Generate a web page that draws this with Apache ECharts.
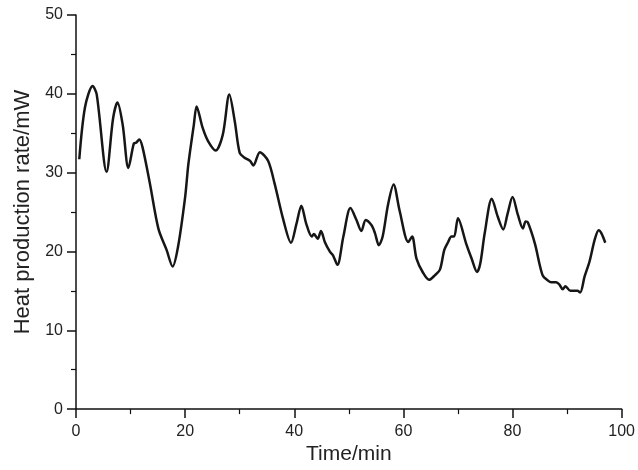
<!DOCTYPE html>
<html>
<head>
<meta charset="utf-8">
<script src="https://cdn.jsdelivr.net/npm/echarts@6/dist/echarts.min.js"></script>
<style>
html,body{margin:0;padding:0;background:#fff;}
#chart{width:638px;height:470px;}
</style>
</head>
<body>
<div id="chart"></div>
<script>
const times = [0.6,1.65,3.05,3.8,5.6,6.8,7.6,8.55,9.6,10.6,11.0,11.6,12.2,13.55,15.1,16.6,17.7,18.7,20.0,20.6,21.6,22.1,23.2,24.2,25.6,26.9,28.1,29.1,30.0,30.9,31.9,32.5,33.7,35.2,36.4,38.0,39.4,40.4,41.3,42.2,43.2,43.6,44.3,44.9,45.6,46.5,47.1,47.9,49.0,50.3,51.4,52.3,53.1,54.2,54.8,55.5,56.2,57.2,58.2,59.3,60.9,61.6,62.4,63.6,64.7,65.8,66.7,67.5,68.2,68.8,69.3,70.0,71.5,72.5,73.5,74.1,74.9,76.2,77.3,78.3,79.1,80.0,81.0,81.9,82.4,82.8,84.1,85.5,86.5,87.1,88.0,88.6,89.2,89.7,90.6,91.4,91.9,92.4,93.2,94.1,95.1,95.8,96.3,97.0];
const rates = [31.7,38.3,41.0,39.9,30.1,36.9,38.9,36.1,30.6,33.7,33.8,34.2,33.2,28.6,22.9,20.2,18.1,20.6,26.9,31.1,36.1,38.4,35.7,34.0,32.8,34.8,39.9,36.5,32.5,31.9,31.5,30.9,32.6,31.5,28.6,24.0,21.1,23.5,25.8,23.5,21.9,22.2,21.6,22.6,21.2,20.0,19.5,18.3,21.9,25.5,24.0,22.6,24.0,23.3,22.3,20.8,21.9,26.0,28.5,25.2,21.2,21.9,19.1,17.3,16.4,17.0,17.7,20.2,21.2,21.9,21.9,24.2,21.0,19.1,17.4,18.5,22.3,26.7,24.4,22.8,24.8,26.9,24.6,22.9,23.8,23.7,21.0,17.0,16.3,16.1,16.1,15.8,15.2,15.6,15.0,15.0,15.0,14.8,16.8,18.7,21.6,22.7,22.3,21.1];
const xTicks = [0,20,40,60,80,100];
const yTicks = [0,10,20,30,40,50];

const data = times.map((t, i) => [t, rates[i]]);
const font = 'Liberation Sans, Arial, Helvetica, sans-serif';
const chart = echarts.init(document.getElementById('chart'), null, {renderer: 'canvas'});
chart.setOption({
  animation: false,
  backgroundColor: '#ffffff',
  grid: {left: 76, right: 16, top: 15, bottom: 56},
  xAxis: {
    type: 'value',
    min: xTicks[0], max: xTicks[xTicks.length - 1], interval: 20,
    name: 'Time/min', nameLocation: 'middle', nameGap: 31,
    nameTextStyle: {fontFamily: font, fontSize: 21, color: '#222'},
    axisLine: {show: true, onZero: false, lineStyle: {color: '#111', width: 1.5}},
    axisTick: {show: true, inside: false, length: 9, lineStyle: {color: '#111', width: 1.5}},
    minorTick: {show: true, splitNumber: 2, length: 5, lineStyle: {color: '#111', width: 1.2}},
    axisLabel: {fontFamily: font, fontSize: 16, color: '#222', margin: 14},
    splitLine: {show: false}
  },
  yAxis: {
    type: 'value',
    min: yTicks[0], max: yTicks[yTicks.length - 1], interval: 10,
    name: 'Heat production rate/mW', nameLocation: 'middle', nameGap: 33,
    nameTextStyle: {fontFamily: font, fontSize: 22, color: '#222'},
    axisLine: {show: true, onZero: false, lineStyle: {color: '#111', width: 1.5}},
    axisTick: {show: true, inside: false, length: 9, lineStyle: {color: '#111', width: 1.5}},
    minorTick: {show: true, splitNumber: 2, length: 5, lineStyle: {color: '#111', width: 1.2}},
    axisLabel: {fontFamily: font, fontSize: 16, color: '#222', margin: 13},
    splitLine: {show: false}
  },
  series: [{
    type: 'line',
    data: data,
    smooth: 0.3,
    showSymbol: false,
    lineStyle: {color: '#161616', width: 2.5}
  }]
});
</script>
</body>
</html>
